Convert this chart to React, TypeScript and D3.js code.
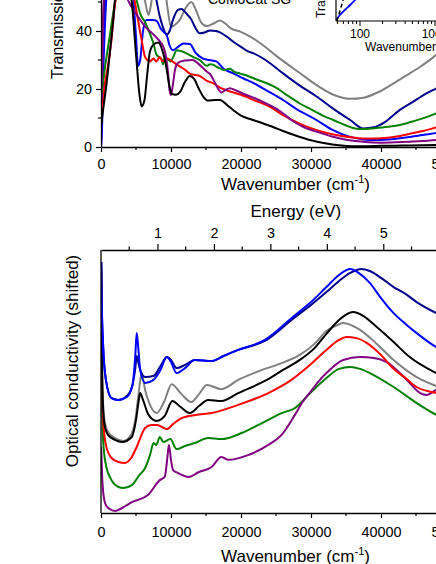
import React, { useRef, useEffect } from 'react';
import * as d3 from 'd3';

const W = 436;
const H = 564;
const FONT = 'Liberation Sans, Arial, sans-serif';
const CM_PER_EV = 8065.54;

// top panel: transmission (%) vs wavenumber (cm-1), [wavenumber, T]
const transBlack = [[0,7],[300,12.8],[800,22],[1300,33.4],[1750,43.8],[2000,50.7],[3000,60],[3800,58],[4400,50],[5000,32],[5500,18],[5800,14],[6200,16],[6600,25],[7000,33],[7600,35.5],[8200,36],[8800,33],[9300,28],[9700,22],[10100,18.3],[10700,18],[11300,19],[12000,22.5],[12700,24.5],[13300,23.5],[14000,20],[14600,17.4],[15300,16],[16300,16.2],[17000,16.2],[18000,14.5],[19000,12.5],[20000,10.8],[21500,9.5],[23000,8.3],[24500,7],[26000,5.5],[28000,3.8],[30000,2.3],[32000,1.3],[34000,0.6],[36000,0.3],[38000,0.3],[40000,0.4],[43000,0.5],[46000,0.6],[50000,0.8]];
const transRed = [[0,13],[250,15],[500,21],[1000,28],[1500,37],[1800,45],[2100,51],[3000,58],[4000,56],[4800,50.5],[5200,45],[5800,37],[6300,31],[7000,29.5],[7500,30.5],[7900,29.5],[8400,31],[8800,29.5],[9400,30.5],[10200,29.5],[10800,28.5],[11800,27],[12700,25.3],[13500,24.8],[14100,24.5],[15000,23],[16000,22],[17000,20.5],[18000,19.5],[20000,18],[22000,16],[24000,14],[26000,11],[28000,8.5],[30000,6.5],[32000,5],[34000,4],[36000,3.3],[38000,2.9],[40000,3],[42000,3.5],[44000,4.5],[46000,5.5],[48000,6.8],[50000,8]];
const transGreen = [[0,17],[600,28],[1300,39],[1800,47],[2100,51],[3000,58],[4200,57],[5100,50.5],[5600,46],[6300,43],[7000,39],[7500,35.7],[7900,32],[8300,31],[8700,30],[8850,28.5],[9100,30.5],[9500,30.5],[9900,29.5],[10400,31.5],[10800,33.4],[11500,33],[12200,32.3],[13200,31],[14100,30],[15100,28],[15600,28.5],[16000,28.4],[16600,27.5],[17000,27.1],[17600,26.5],[18400,27],[19000,26],[19900,25.3],[21000,24.5],[22500,23],[23700,22],[25000,20.5],[26500,18],[28400,15],[30000,13],[32000,10.5],[33200,9.3],[35000,7.4],[36500,6.3],[37500,6.2],[39000,6.5],[41000,7],[42700,7.6],[44500,8.8],[46500,10.3],[48000,11.7],[50000,13.5]];
const transBlue = [[0,0],[100,3],[350,27.7],[600,43.8],[800,52],[2000,62],[4000,60],[4600,52],[5000,38],[5300,28],[5600,30],[6000,40],[6500,43.8],[7400,43.8],[7950,43.5],[8500,41],[9000,39.5],[9400,38.5],[9800,35],[10300,33.4],[11000,34.5],[11800,35.7],[12700,35.5],[13500,32.5],[14600,30.5],[15500,30],[16500,29.5],[17500,27],[18900,25.4],[20300,23.7],[21800,22],[24000,19],[26000,16.2],[28000,13],[30800,9.3],[33000,6],[35600,3.5],[37500,2.6],[39000,2.4],[41000,2.6],[43000,3.1],[45000,3.8],[47000,4.5],[48000,4.9],[50000,5.6]];
const transNavy = [[0,25],[300,40],[600,51],[1000,60],[3500,66],[6000,64],[7200,58],[7800,52],[8400,45],[8900,41],[9400,38.8],[9800,40],[10300,44],[11000,47.3],[11500,47.6],[12200,46],[12900,44],[13500,41],[14100,39.2],[14800,39.5],[15600,40.2],[16400,40],[17000,39.5],[18000,38],[18900,36.3],[20000,34.5],[21000,33],[21800,32.3],[23500,30],[26000,25.4],[28500,21],[30800,17.4],[33000,13.5],[35600,9.3],[37500,6.4],[39000,6.8],[40500,8.5],[42700,12.8],[44500,15.5],[46500,18.5],[48000,20.3],[50000,23]];
const transGray = [[0,30],[300,45],[500,52],[3500,70],[5200,64],[5900,56],[6400,49],[6800,45.5],[7200,50],[7800,58],[9000,56],[9500,48],[10000,41.4],[10500,42],[11300,44],[12000,47.5],[12900,50],[13600,47],[14300,43],[15100,41.7],[16000,42.5],[17000,43.6],[17800,42.5],[18500,41],[19900,39.8],[21500,37.8],[23200,35],[25000,31.5],[28400,25.5],[31000,21],[33200,18],[35600,16.6],[37500,17],[39500,18.8],[41500,21.5],[43500,24.5],[45500,27.5],[47500,31],[48000,32],[50000,35]];
const transPurple = [[0,20],[200,30],[300,44],[450,52],[1500,60],[3000,57],[3900,50.5],[5000,46],[5600,43.8],[6500,41],[7400,39],[8200,37],[8900,34.6],[9300,31],[9600,25],[9800,19.5],[10000,17.9],[10300,22],[10600,27],[11000,29],[12000,29.8],[13100,30],[14000,28.5],[15100,26],[15700,24.8],[16200,22.5],[16800,19.8],[17200,18.8],[17700,19.5],[18400,20.3],[19300,19.5],[20500,18.2],[22000,16.8],[24000,14.5],[25500,12.5],[27500,8.8],[29000,6.8],[30800,5.3],[33000,3.6],[35000,2.5],[37500,1.8],[40000,1.5],[42000,1.6],[44000,1.8],[46000,2.1],[48000,2.4],[50000,2.8]];

// inset: low-frequency transmission on a log wavenumber axis
const insetBlue = [[49,1],[50,2.5],[54,6],[63,11],[74,16],[86,21],[100,27]];
const insetBlackDashed = [[49,0],[52,6],[55,12],[58,18],[60,22]];

// bottom panel: optical conductivity (shifted, arb. units), [wavenumber, sigma]
const sigmaBlue = [[30,95.4],[100,81],[300,63.9],[700,50.6],[1500,43.7],[2500,43],[3700,44.1],[4500,48.7],[4900,60],[5100,68.4],[5350,62],[5600,54.4],[6300,49.4],[7500,50.6],[8500,54.4],[9400,59.3],[10000,57.4],[10800,53.2],[12000,55.1],[13400,58.2],[15800,57.8],[17500,59.7],[19600,62],[23400,65.8],[27400,74.5],[30000,80.2],[32200,85.9],[34000,90.5],[35600,92.8],[36800,91.3],[38400,87.5],[40000,81.7],[41800,76],[43500,71.9],[45100,68.4],[47900,63.1],[50000,60.8]];
const sigmaNavy = [[30,95.4],[100,81],[300,63.9],[700,50.6],[1500,43.7],[2500,43],[3700,44.5],[4500,48.7],[4900,55],[5100,59.7],[5350,57],[5600,54.4],[6300,51.7],[7500,52.1],[8500,55.9],[9400,59.3],[10000,58.2],[10800,55.1],[12000,56.3],[13400,58.2],[15800,57.8],[17500,59.7],[19600,62],[23400,65.4],[27400,73.8],[30000,79.1],[32200,84],[34000,88.2],[35600,91.3],[37200,92.8],[38400,92],[40000,89.4],[41800,85.9],[43500,83.3],[45100,80.2],[47900,76],[50000,73.4]];
const sigmaGray = [[30,95.4],[100,69.6],[250,44.9],[500,35.4],[1000,30.8],[2000,28.5],[3200,27.4],[4200,29.3],[4900,35.4],[5400,46],[5800,53.2],[6300,46.8],[7000,41.1],[7950,38],[9000,42.2],[10100,49],[11500,45.2],[12900,42.2],[14000,45.2],[15100,48.7],[17200,47.1],[19600,50.6],[23000,54.4],[25500,56.7],[28400,60.1],[30500,64.3],[32200,69.2],[33500,71.1],[34600,72.2],[36000,71.1],[37000,69.6],[39400,64.3],[41800,58.2],[45100,51.7],[47900,48.3],[50000,46.4]];
const sigmaBlack = [[30,95.4],[100,67.7],[250,43],[500,33.5],[1000,29.7],[2000,27.8],[3000,27],[4400,28.9],[5000,35.4],[5350,42],[5600,45.6],[6000,43],[6800,37.3],[7950,35],[9100,36.9],[10200,42.6],[11200,40.7],[12700,38],[14000,40.7],[15300,43],[17200,42.6],[19600,45.6],[23400,50.2],[26000,54.4],[28400,58.2],[30500,62.7],[32200,68.1],[34000,73.4],[36000,76.4],[37500,74.9],[39400,70.7],[41800,65],[44100,59.3],[47900,53.2],[50000,50.6]];
const sigmaRed = [[30,92.4],[100,62],[300,35.4],[700,25.9],[1500,20.9],[2500,19.4],[3400,19],[4300,20.9],[5100,25.1],[6300,32.3],[7200,33.5],[8000,33.5],[8700,32.7],[9400,31.9],[10300,33.8],[11500,36.1],[13500,37.3],[15800,38],[19600,41.1],[23900,45.6],[27200,50.6],[29500,55.5],[32200,62],[34000,65.8],[35100,66.9],[36500,66.5],[38000,64.6],[40000,60.1],[41800,54.8],[43500,51.3],[45100,47.9],[47900,45.6],[50000,44.5]];
const sigmaGreen = [[30,90.5],[100,50.6],[300,27.8],[700,18.3],[1500,12.5],[2500,9.9],[3200,9.5],[4400,10.6],[5400,14.1],[6300,17.1],[7000,22],[7500,26.6],[7900,25.9],[8400,28.9],[8900,27],[9900,28.1],[10800,24.3],[12000,25.5],[13400,26.6],[15300,28.5],[17200,28.1],[20100,30.4],[23000,34.2],[25800,38],[27700,39.9],[29900,45.6],[32200,51.3],[34000,54.8],[35600,55.5],[37000,54.8],[38400,53.2],[41800,47.9],[45100,41.8],[47900,37.3],[50000,34.6]];
const sigmaPurple = [[30,25],[150,15],[350,7],[700,3],[1200,1.6],[2000,0.8],[3000,1.9],[4500,4.2],[6700,6.8],[8400,12.5],[9100,13.7],[9450,20.2],[9700,25.9],[10000,20.2],[10300,16.3],[11000,15.2],[12500,13.7],[14000,15.6],[15800,17.5],[17200,21.3],[18200,20.2],[21000,22],[23900,25.9],[25800,29.7],[27700,37.3],[28800,42.2],[29900,46],[31000,49.8],[32200,53.2],[34600,58.2],[37000,59.3],[39000,58.9],[40800,57.4],[43700,50.6],[45600,45.6],[46500,44.9],[47900,46.8],[50000,48.7]];

const wnTicks = [0, 10000, 20000, 30000, 40000, 50000];
const wnMinor = [5000, 15000, 25000, 35000, 45000];
const transTicks = [0, 20, 40];
const transMinor = [10, 30, 50];
const energyTicks = [1, 2, 3, 4, 5];
const energyMinor = [0.5, 1.5, 2.5, 3.5, 4.5, 5.5];
const insetTicks = [100, 1000];
const insetMinor = [50, 60, 70, 80, 90, 200, 300, 400, 500, 600, 700, 800, 900];

const topSeries = [
  { color: '#808080', data: transGray },
  { color: '#00008B', data: transNavy },
  { color: '#0000FF', data: transBlue },
  { color: '#008000', data: transGreen },
  { color: '#FF0000', data: transRed },
  { color: '#800080', data: transPurple },
  { color: '#000000', data: transBlack },
];

const bottomSeries = [
  { color: '#008000', data: sigmaGreen },
  { color: '#800080', data: sigmaPurple },
  { color: '#FF0000', data: sigmaRed },
  { color: '#808080', data: sigmaGray },
  { color: '#000000', data: sigmaBlack },
  { color: '#00008B', data: sigmaNavy },
  { color: '#0000FF', data: sigmaBlue },
];

const App = () => {
  const svgRef = useRef(null);

  useEffect(() => {
    const svg = d3.select(svgRef.current);
    svg.selectAll('*').remove();

    const left = 101;
    const xEnd = 451;

    const x = d3.scaleLinear().domain([0, 50000]).range([left, xEnd]);
    const yT = d3.scaleLinear().domain([0, 60]).range([147, -27]);
    const yS = d3.scaleLinear().domain([0, 100]).range([513, 250]);
    const xE = d3.scaleLinear().domain([0, 50000 / CM_PER_EV]).range([left, xEnd]);
    const xI = d3.scaleLog().domain([100, 1000]).range([360, 435]);
    const yI = d3.scaleLinear().domain([0, 100]).range([21, -79]);

    const defs = svg.append('defs');
    defs.append('clipPath').attr('id', 'clipTop')
      .append('rect').attr('x', left).attr('y', -40).attr('width', W - left).attr('height', 187);
    defs.append('clipPath').attr('id', 'clipBottom')
      .append('rect').attr('x', left).attr('y', 250).attr('width', W - left).attr('height', 263);

    const styleAxis = (sel, size) => {
      sel.select('.domain').attr('stroke', '#000').attr('stroke-width', 1.3);
      sel.selectAll('.tick line').attr('stroke', '#000').attr('stroke-width', 1.2);
      sel.selectAll('text').attr('font-family', FONT).attr('font-size', size).attr('fill', '#000');
    };

    const minorTicks = (vals, scale, y0, len) => {
      svg.append('g').selectAll('line').data(vals).join('line')
        .attr('x1', d => scale(d)).attr('x2', d => scale(d))
        .attr('y1', y0).attr('y2', y0 + len)
        .attr('stroke', '#000').attr('stroke-width', 1.2);
    };

    const line = (xs, ys) => d3.line()
      .x(d => xs(d[0]))
      .y(d => ys(d[1]))
      .curve(d3.curveMonotoneX);

    // ---------- top panel ----------
    const topCurves = svg.append('g').attr('clip-path', 'url(#clipTop)');
    topSeries.forEach(s => {
      topCurves.append('path').datum(s.data)
        .attr('fill', 'none').attr('stroke', s.color).attr('stroke-width', 2)
        .attr('stroke-linejoin', 'round')
        .attr('d', line(x, yT));
    });

    const xAxisT = svg.append('g').attr('transform', 'translate(0,147)')
      .call(d3.axisBottom(x).tickValues(wnTicks).tickSize(5).tickSizeOuter(0).tickFormat(d3.format('d')));
    styleAxis(xAxisT, 14.4);
    xAxisT.selectAll('text').attr('y', 22).attr('dy', 0);
    minorTicks(wnMinor, x, 147, 3);

    const yAxisT = svg.append('g').attr('transform', `translate(${left},0)`)
      .call(d3.axisLeft(yT).tickValues(transTicks).tickSize(5).tickPadding(4).tickSizeOuter(0));
    styleAxis(yAxisT, 14.4);
    svg.append('g').selectAll('line').data(transMinor).join('line')
      .attr('x1', left - 3).attr('x2', left).attr('y1', d => yT(d)).attr('y2', d => yT(d))
      .attr('stroke', '#000').attr('stroke-width', 1.2);

    svg.append('text')
      .attr('transform', 'translate(63,79) rotate(-90)')
      .attr('font-family', FONT).attr('font-size', 16)
      .text('Transmission (%)');

    const xTitle = (y) => {
      const t = svg.append('text').attr('x', 295.5).attr('y', y)
        .attr('text-anchor', 'middle').attr('font-family', FONT).attr('font-size', 17);
      t.append('tspan').text('Wavenumber (cm');
      t.append('tspan').attr('font-size', 11).attr('dy', -7).text('-1');
      t.append('tspan').attr('dy', 7).text(')');
    };
    xTitle(190);

    svg.append('text').attr('x', 208).attr('y', 4)
      .attr('font-family', FONT).attr('font-size', 14).text('CoMoCat SG');

    // inset
    const inset = svg.append('g');
    inset.append('rect').attr('x', 336).attr('y', -60).attr('width', 110).attr('height', 81).attr('fill', '#fff');
    inset.append('path').datum(insetBlue)
      .attr('fill', 'none').attr('stroke', '#0000FF').attr('stroke-width', 1.8)
      .attr('d', line(xI, yI));
    inset.append('path').datum(insetBlackDashed)
      .attr('fill', 'none').attr('stroke', '#000').attr('stroke-width', 1.5)
      .attr('stroke-dasharray', '4,3')
      .attr('d', line(xI, yI));
    inset.append('line').attr('x1', 336).attr('x2', 436).attr('y1', 21).attr('y2', 21)
      .attr('stroke', '#000').attr('stroke-width', 1.2);
    inset.append('line').attr('x1', 336).attr('x2', 336).attr('y1', -10).attr('y2', 21)
      .attr('stroke', '#000').attr('stroke-width', 1.2);
    inset.append('g').selectAll('line').data(insetMinor.filter(d => xI(d) > 337)).join('line')
      .attr('x1', d => xI(d)).attr('x2', d => xI(d)).attr('y1', 21).attr('y2', 24)
      .attr('stroke', '#000').attr('stroke-width', 1);
    inset.append('g').selectAll('line').data(insetTicks).join('line')
      .attr('x1', d => xI(d)).attr('x2', d => xI(d)).attr('y1', 21).attr('y2', 26)
      .attr('stroke', '#000').attr('stroke-width', 1);
    inset.append('g').selectAll('text').data(insetTicks).join('text')
      .attr('x', d => xI(d)).attr('y', 37.5).attr('text-anchor', 'middle')
      .attr('font-family', FONT).attr('font-size', 12).text(d => d);
    const it = inset.append('text').attr('x', 365).attr('y', 50.5)
      .attr('font-family', FONT).attr('font-size', 12);
    it.append('tspan').text('Wavenumber (cm');
    it.append('tspan').attr('font-size', 8).attr('dy', -5).text('-1');
    it.append('tspan').attr('dy', 5).text(')');
    inset.append('text').attr('transform', 'translate(325,18) rotate(-90)')
      .attr('font-family', FONT).attr('font-size', 12).text('Transmission');

    // ---------- bottom panel ----------
    const botCurves = svg.append('g').attr('clip-path', 'url(#clipBottom)');
    bottomSeries.forEach(s => {
      botCurves.append('path').datum(s.data)
        .attr('fill', 'none').attr('stroke', s.color).attr('stroke-width', 2)
        .attr('stroke-linejoin', 'round')
        .attr('d', line(x, yS));
    });

    const xAxisB = svg.append('g').attr('transform', 'translate(0,513)')
      .call(d3.axisBottom(x).tickValues(wnTicks).tickSize(5).tickSizeOuter(0).tickFormat(d3.format('d')));
    styleAxis(xAxisB, 14.4);
    xAxisB.selectAll('text').attr('y', 24).attr('dy', 0);
    minorTicks(wnMinor, x, 513, 3);

    const eAxis = svg.append('g').attr('transform', 'translate(0,250)')
      .call(d3.axisTop(xE).tickValues(energyTicks).tickSize(6).tickSizeOuter(0).tickFormat(d3.format('d')));
    styleAxis(eAxis, 14.4);
    eAxis.selectAll('text').attr('y', -12.5).attr('dy', 0);
    minorTicks(energyMinor, xE, 250, -3.5);

    svg.append('line').attr('x1', left).attr('x2', left).attr('y1', 250).attr('y2', 513)
      .attr('stroke', '#000').attr('stroke-width', 1.3);

    xTitle(562);
    svg.append('text').attr('x', 295.8).attr('y', 217)
      .attr('text-anchor', 'middle').attr('font-family', FONT).attr('font-size', 17)
      .text('Energy (eV)');
    svg.append('text')
      .attr('transform', 'translate(78,361) rotate(-90)')
      .attr('text-anchor', 'middle').attr('font-family', FONT).attr('font-size', 17)
      .text('Optical conductivity (shifted)');
  }, []);

  return (
    <svg ref={svgRef} width={W} height={H}
      style={{ position: 'absolute', left: 0, top: 0, background: '#fff', display: 'block' }} />
  );
};

export default App;
